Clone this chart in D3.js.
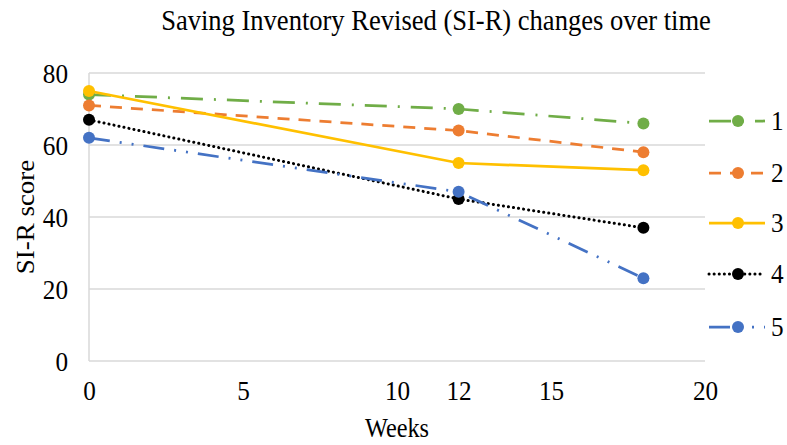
<!DOCTYPE html>
<html>
<head>
<meta charset="utf-8">
<script src="https://cdn.jsdelivr.net/npm/d3@7"></script>
<style>
  body { margin: 0; background: #fff; }
  svg text { font-family: "Liberation Serif", "Times New Roman", serif; fill: #000; }
</style>
</head>
<body>
<svg id="chart" width="787" height="445"></svg>
<script>
// data
let weeks = [0, 12, 18]
let seriesNames = ["1", "2", "3", "4", "5"]
let s1 = [74, 70, 66]
let s2 = [71, 64, 58]
let s3 = [75, 55, 53]
let s4 = [67, 45, 37]
let s5 = [62, 47, 23]
let xTicks = [0, 5, 10, 12, 15, 20]
let yTicks = [0, 20, 40, 60, 80]

let colors = ["#70ad47", "#ed7d31", "#ffc000", "#000000", "#4472c4"]
let dashes = ["22,11,2,11", "12,9", null, "0.1,5", "21,10,2,10,2,10"]

let width = 787,
    height = 445,
    margins = {top: 73, bottom: 84, left: 89, right: 82},
    squish = 0.9   // the reference text is a bit narrow

let svg = d3.select("#chart")

let x = d3.scaleLinear()
  .domain([0, 20])
  .range([margins.left, width - margins.right])
let y = d3.scaleLinear()
  .domain([0, 80])
  .range([height - margins.bottom, margins.top])

// gridlines
svg.append("g")
  .selectAll("line")
  .data(yTicks).enter()
  .append("line")
  .attr("x1", margins.left)
  .attr("x2", width - margins.right)
  .attr("y1", d => y(d))
  .attr("y2", d => y(d))
  .attr("stroke", "#d9d9d9")
  .attr("stroke-width", 1.5)

// left axis line
svg.append("line")
  .attr("x1", margins.left).attr("x2", margins.left)
  .attr("y1", y(0)).attr("y2", y(80))
  .attr("stroke", "#d9d9d9")
  .attr("stroke-width", 1.5)

// y axis labels
let yAxis = d3.axisLeft(y).tickValues(yTicks).tickSize(0)
svg.append("g")
  .attr("transform", `translate(${margins.left},0)`)
  .call(yAxis)
  .call(g => g.select(".domain").remove())
  .selectAll("text")
  .attr("x", -21 / squish)
  .attr("dy", "0.33em")
  .attr("transform", `scale(${squish},1)`)
  .style("font-size", "28px")
  .style("font-family", "Liberation Serif")

// x axis labels
let xAxis = d3.axisBottom(x).tickValues(xTicks).tickSize(0)
svg.append("g")
  .attr("transform", `translate(0,${y(0)})`)
  .call(xAxis)
  .call(g => g.select(".domain").remove())
  .selectAll("text")
  .attr("y", 39)
  .attr("dy", 0)
  .attr("transform", `scale(${squish},1)`)
  .style("font-size", "28px")
  .style("font-family", "Liberation Serif")

// series
let allSeries = [s1, s2, s3, s4, s5]
let line = d3.line()
  .x((d, i) => x(weeks[i]))
  .y(d => y(d))

allSeries.forEach((vals, k) => {
  svg.append("path")
    .datum(vals)
    .attr("d", line)
    .attr("fill", "none")
    .attr("stroke", colors[k])
    .attr("stroke-width", k == 3 ? 3 : 2.75)
    .attr("stroke-dasharray", dashes[k])
    .attr("stroke-linecap", k == 3 ? "round" : "butt")

  svg.append("g")
    .selectAll("circle")
    .data(vals).enter()
    .append("circle")
    .attr("cx", (d, i) => x(weeks[i]))
    .attr("cy", d => y(d))
    .attr("r", 6)
    .attr("fill", colors[k])
})

// legend
let legendY = [121, 173, 223, 274, 327]
let legend = svg.append("g")
seriesNames.forEach((name, k) => {
  let g = legend.append("g").attr("transform", `translate(709,${legendY[k]})`)
  g.append("line")
    .attr("x1", 0).attr("x2", 56)
    .attr("stroke", colors[k])
    .attr("stroke-width", k == 3 ? 3 : 2.75)
    .attr("stroke-dasharray", dashes[k])
    .attr("stroke-linecap", k == 3 ? "round" : "butt")
  g.append("circle")
    .attr("cx", 29).attr("r", 6)
    .attr("fill", colors[k])
  g.append("text")
    .attr("transform", `translate(62,9) scale(${squish},1)`)
    .style("font-size", "28px")
    .text(name)
})

// titles
svg.append("text")
  .attr("transform", `translate(436,30) scale(${squish},1)`)
  .attr("text-anchor", "middle")
  .style("font-size", "29.5px")
  .text("Saving Inventory Revised (SI-R) changes over time")

svg.append("text")
  .attr("transform", `translate(397,437) scale(${squish},1)`)
  .attr("text-anchor", "middle")
  .style("font-size", "27px")
  .text("Weeks")

svg.append("text")
  .attr("transform", `translate(34,217) scale(${squish},1) rotate(-90)`)
  .attr("text-anchor", "middle")
  .style("font-size", "27px")
  .text("SI-R score")
</script>
</body>
</html>
